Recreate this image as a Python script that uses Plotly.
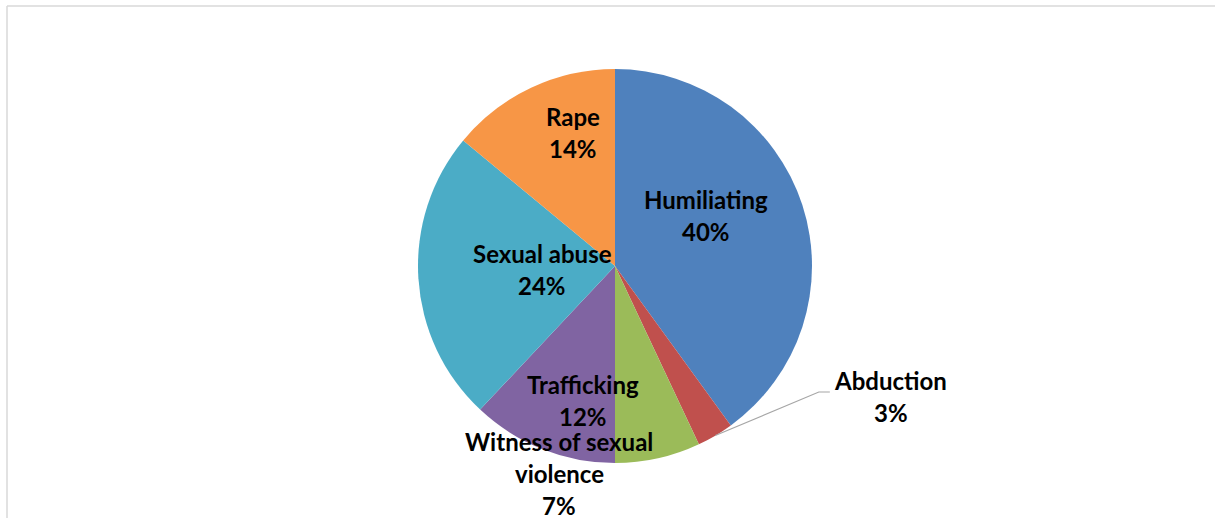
import math
import plotly.graph_objects as go

# ---- data ----
categories = ["Humiliating", "Abduction", "Witness of sexual violence",
              "Trafficking", "Sexual abuse", "Rape"]
values = [40, 3, 7, 12, 24, 14]
label_lines = [["Humiliating"], ["Abduction"], ["Witness of sexual", "violence"],
               ["Trafficking"], ["Sexual abuse"], ["Rape"]]

# ---- style ----
colors = ["#4F81BD", "#C0504D", "#9BBB59", "#8064A2", "#4BACC6", "#F79646"]
W, H = 1215, 518
ML, MR, MT, MB = 15, 0, 69, 55
PW, PH = W - ML - MR, H - MT - MB
CX, CY = ML + PW / 2, MT + PH / 2
R = min(PW, PH) / 2
# label placement: (radius fraction, angle offset from slice mid-angle in degrees)
label_place = [(0.53, -11), (1.55, -34), (1.09, 27.6), (0.70, -8.3), (0.37, 1.2), (0.71, 7.8)]
FONT = "Lato, 'Open Sans', sans-serif"
FS = 24
LINE_H = 32


def px_to_paper(px, py):
    return (px - ML) / PW, (MT + PH - py) / PH


fig = go.Figure(go.Pie(
    labels=categories, values=values, sort=False, direction="clockwise",
    rotation=0, marker=dict(colors=colors, line=dict(width=0)),
    textinfo="none", hoverinfo="label+percent", showlegend=False,
    domain=dict(x=[0, 1], y=[0, 1]),
))

total = sum(values)
cum = 0
annotations = []
shapes = []
for i, v in enumerate(values):
    mid = (cum + v / 2) / total * 360
    cum += v
    f, off = label_place[i]
    ang = math.radians(mid + off)
    bx = CX + f * R * math.sin(ang)
    by = CY - f * R * math.cos(ang)
    lines = label_lines[i] + [f"{v}%"]
    n = len(lines)
    for j, t in enumerate(lines):
        ly = by + (j - (n - 1) / 2) * LINE_H
        x, y = px_to_paper(bx, ly)
        annotations.append(dict(
            x=x, y=y, xref="paper", yref="paper", text=f"<b>{t}</b>",
            showarrow=False, xanchor="center", yanchor="middle",
            font=dict(family=FONT, size=FS, color="#000000")))
    if categories[i] == "Abduction":
        ma = math.radians(mid)
        ex, ey = CX + R * math.sin(ma), CY - R * math.cos(ma)
        kx, ky = bx - 72, by - 5
        hx = kx + 11
        pts = [px_to_paper(ex, ey), px_to_paper(kx, ky), px_to_paper(hx, ky)]
        path = "M {} {} L {} {} L {} {}".format(*[c for p in pts for c in p])
        shapes.append(dict(type="path", xref="paper", yref="paper", path=path,
                           line=dict(color="#A6A6A6", width=1.2)))

# chart frame (partially visible)
x0, y0 = px_to_paper(7, 6)
x1, _ = px_to_paper(W + 5, 6)
_, y1 = px_to_paper(7, H + 5)
shapes.append(dict(type="line", xref="paper", yref="paper", x0=x0, y0=y0, x1=x1, y1=y0,
                   line=dict(color="#D9D9D9", width=1.5)))
shapes.append(dict(type="line", xref="paper", yref="paper", x0=x0, y0=y0, x1=x0, y1=y1,
                   line=dict(color="#D9D9D9", width=1.5)))

fig.update_layout(
    width=W, height=H, margin=dict(l=ML, r=MR, t=MT, b=MB),
    paper_bgcolor="white", plot_bgcolor="white",
    annotations=annotations, shapes=shapes,
)
fig.write_html("out.html")
